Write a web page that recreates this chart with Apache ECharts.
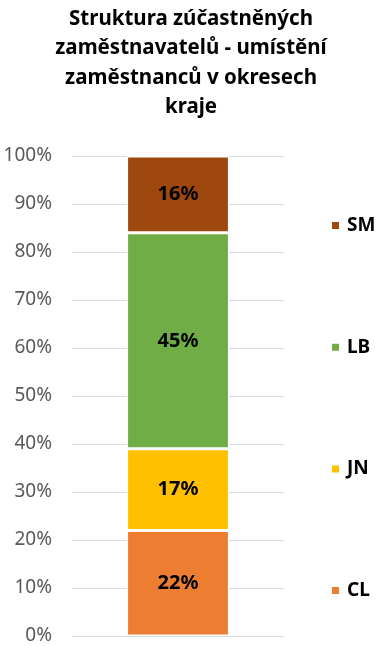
<!DOCTYPE html>
<html>
<head>
<meta charset="utf-8">
<script src="https://cdn.jsdelivr.net/npm/echarts@6/dist/echarts.min.js"></script>
<style>html,body{margin:0;padding:0;background:#fff}#c{width:382px;height:646px}</style>
</head>
<body>
<div id="c"></div>
<script>
const categories = ['kraj'];
const seriesNames = ['CL', 'JN', 'LB', 'SM'];
const CL = [22];
const JN = [17];
const LB = [45];
const SM = [16];
const yTicks = [0, 10, 20, 30, 40, 50, 60, 70, 80, 90, 100];
const colors = {CL: '#ED7D31', JN: '#FFC000', LB: '#70AD47', SM: '#9E480E'};
const values = {CL, JN, LB, SM};

const chart = echarts.init(document.getElementById('c'));
chart.setOption({
  animation: false,
  title: {
    text: 'Struktura zúčastněných\nzaměstnavatelů - umístění\nzaměstnanců v okresech\nkraje',
    left: 'center',
    top: 4,
    padding: [0, 0, 0, 12],
    textStyle: {fontFamily: 'Noto Sans', fontWeight: 'bold', fontSize: 20.5, lineHeight: 29.5, color: '#000'}
  },
  legend: {
    orient: 'vertical',
    left: 325,
    top: 211,
    itemWidth: 9,
    itemHeight: 9,
    itemGap: 102.7,
    icon: 'rect',
    data: ['SM', 'LB', 'JN', 'CL'],
    textStyle: {fontFamily: 'Noto Sans', fontWeight: 'bold', fontSize: 19, color: '#000', lineHeight: 18, padding: [0,0,0,2]}
  },
  grid: {left: 72, right: 98, top: 156, bottom: 10, containLabel: false},
  xAxis: {
    type: 'category', data: categories,
    axisLine: {show: false}, axisTick: {show: false}, axisLabel: {show: false}
  },
  yAxis: {
    type: 'value', min: 0, max: 100, interval: 10,
    axisLine: {show: false}, axisTick: {show: false},
    splitLine: {lineStyle: {color: '#D9D9D9', width: 1}},
    axisLabel: {
      margin: 20, fontFamily: 'Noto Sans', fontSize: 19, color: '#595959',
      formatter: v => yTicks.includes(v) ? v + '%' : ''
    }
  },
  series: seriesNames.map(n => ({
    name: n, type: 'bar', stack: 'total', barWidth: '48.5%',
    data: values[n],
    itemStyle: {color: colors[n], borderColor: '#fff', borderWidth: 1.5},
    label: {show: true, position: 'inside', formatter: '{c}%', fontFamily: 'Noto Sans', fontWeight: 'bold', fontSize: 20, color: '#000'}
  }))
});
</script>
</body>
</html>
